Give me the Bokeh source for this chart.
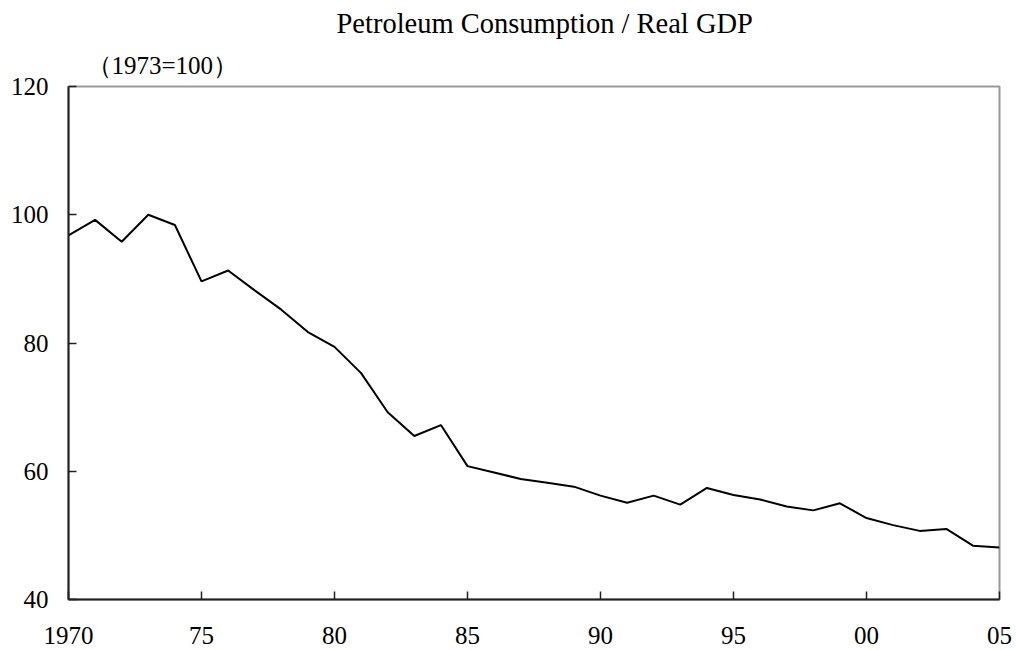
from bokeh.plotting import figure
from bokeh.models import FixedTicker, Title, Range1d
from bokeh.embed import file_html
from bokeh.resources import INLINE

years = list(range(1970, 2006))
ratio = [96.8, 99.2, 95.8, 100.0, 98.4, 89.6, 91.3, 88.2, 85.2, 81.7,
         79.4, 75.3, 69.2, 65.5, 67.2, 60.8, 59.8, 58.8, 58.2, 57.6,
         56.2, 55.1, 56.2, 54.8, 57.4, 56.3, 55.6, 54.5, 53.9, 55.0,
         52.7, 51.6, 50.7, 51.0, 48.4, 48.1]
x_ticks = [1970, 1975, 1980, 1985, 1990, 1995, 2000, 2005]
x_tick_labels = ["1970", "75", "80", "85", "90", "95", "00", "05"]
y_ticks = [40, 60, 80, 100, 120]

FONT = "Liberation Serif"

p = figure(width=1016, height=650, title=None, output_backend="svg",
           toolbar_location=None, x_range=Range1d(1970, 2005), y_range=Range1d(40, 120),
           min_border_left=68, min_border_right=17, min_border_top=86, min_border_bottom=51)

p.line(years, ratio, line_color="black", line_width=2)

p.add_layout(Title(text="（1973=100）", align="left", offset=18, text_font=FONT,
                   text_font_size="25px", text_font_style="normal", text_color="black",
                   standoff=16), "above")
p.add_layout(Title(text="Petroleum Consumption / Real GDP", align="left", offset=268,
                   text_font=FONT, text_font_size="28.5px", text_font_style="normal",
                   text_color="black", standoff=5), "above")

p.xgrid.visible = False
p.ygrid.visible = False
p.outline_line_color = "#999999"
p.outline_line_width = 2

p.xaxis.ticker = FixedTicker(ticks=x_ticks)
p.xaxis.major_label_overrides = {t: l for t, l in zip(x_ticks, x_tick_labels)}
p.yaxis.ticker = FixedTicker(ticks=y_ticks)

for ax in (p.xaxis, p.yaxis):
    ax.axis_line_color = "#222222"
    ax.axis_line_width = 2
    ax.major_tick_line_color = "#222222"
    ax.major_tick_line_width = 1.5
    ax.major_tick_in = 8
    ax.major_tick_out = 0
    ax.minor_tick_line_color = None
    ax.major_label_text_font = FONT
    ax.major_label_text_font_size = "25px"
    ax.major_label_text_color = "black"

p.xaxis.major_label_standoff = 27
p.yaxis.major_label_standoff = 20

open("out.html", "w").write(file_html(p, INLINE))
